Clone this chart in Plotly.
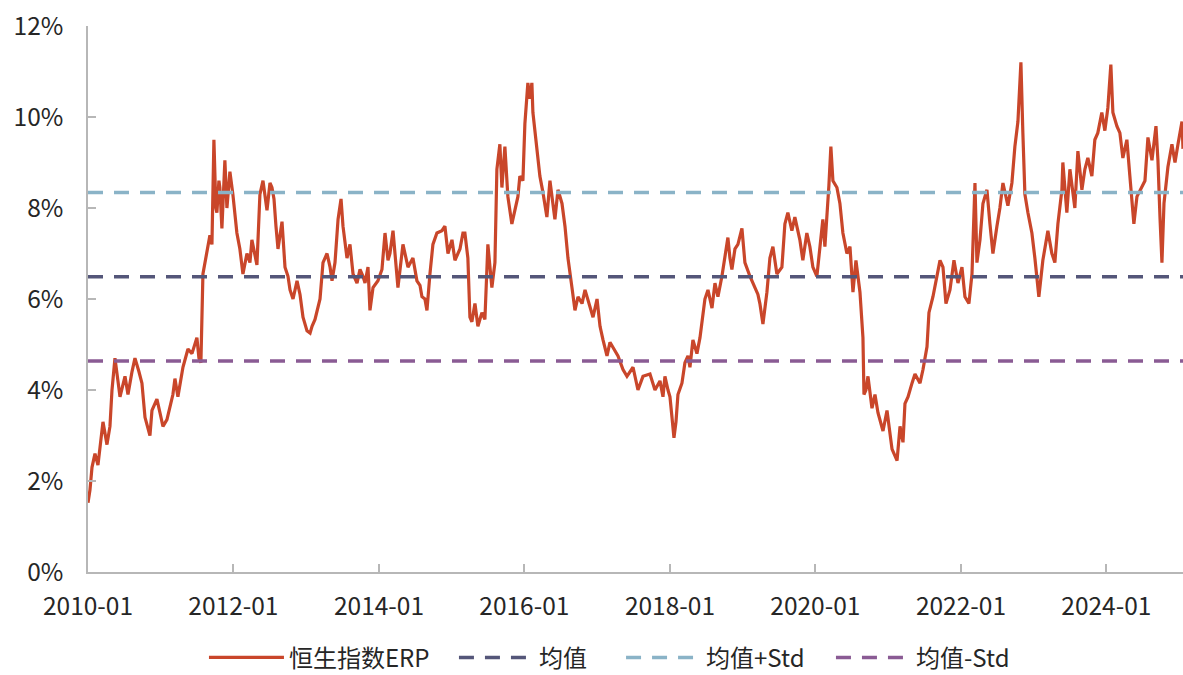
import pandas as pd
import plotly.graph_objects as go

# decimal-year time stamps and ERP values (%)
t_years = [
    2010.000, 2010.027, 2010.055, 2010.096, 2010.137, 2010.206, 2010.261, 2010.302, 2010.330, 2010.371,
    2010.412, 2010.440, 2010.509, 2010.550, 2010.605, 2010.646, 2010.701, 2010.742, 2010.784, 2010.852,
    2010.880, 2010.948, 2010.990, 2011.031, 2011.086, 2011.127, 2011.168, 2011.196, 2011.237, 2011.306,
    2011.375, 2011.430, 2011.498, 2011.526, 2011.553, 2011.581, 2011.636, 2011.677, 2011.705, 2011.718,
    2011.732, 2011.759, 2011.773, 2011.801, 2011.814, 2011.842, 2011.883, 2011.911, 2011.952, 2011.993,
    2012.048, 2012.089, 2012.131, 2012.186, 2012.227, 2012.254, 2012.296, 2012.323, 2012.364, 2012.406,
    2012.461, 2012.502, 2012.529, 2012.557, 2012.584, 2012.612, 2012.667, 2012.708, 2012.749, 2012.777,
    2012.818, 2012.873, 2012.914, 2012.955, 2013.010, 2013.052, 2013.079, 2013.120, 2013.189, 2013.230,
    2013.285, 2013.327, 2013.354, 2013.395, 2013.437, 2013.478, 2013.505, 2013.560, 2013.601, 2013.643,
    2013.698, 2013.739, 2013.780, 2013.808, 2013.849, 2013.876, 2013.918, 2013.986, 2014.041, 2014.083,
    2014.124, 2014.151, 2014.193, 2014.220, 2014.261, 2014.330, 2014.399, 2014.467, 2014.522, 2014.564,
    2014.591, 2014.632, 2014.660, 2014.701, 2014.742, 2014.797, 2014.866, 2014.907, 2014.949, 2015.004,
    2015.045, 2015.114, 2015.155, 2015.182, 2015.210, 2015.223, 2015.251, 2015.278, 2015.320, 2015.361,
    2015.416, 2015.457, 2015.498, 2015.526, 2015.553, 2015.595, 2015.622, 2015.663, 2015.691, 2015.732,
    2015.773, 2015.828, 2015.870, 2015.911, 2015.938, 2015.980, 2016.007, 2016.048, 2016.076, 2016.103,
    2016.117, 2016.172, 2016.213, 2016.254, 2016.309, 2016.351, 2016.419, 2016.461, 2016.516, 2016.557,
    2016.598, 2016.653, 2016.694, 2016.736, 2016.791, 2016.832, 2016.901, 2016.942, 2016.997, 2017.038,
    2017.079, 2017.134, 2017.175, 2017.230, 2017.285, 2017.354, 2017.409, 2017.492, 2017.560, 2017.629,
    2017.725, 2017.794, 2017.863, 2017.904, 2017.931, 2017.973, 2018.000, 2018.028, 2018.055, 2018.083,
    2018.110, 2018.165, 2018.206, 2018.248, 2018.275, 2018.316, 2018.371, 2018.413, 2018.454, 2018.481,
    2018.523, 2018.578, 2018.619, 2018.660, 2018.715, 2018.756, 2018.797, 2018.825, 2018.852, 2018.894,
    2018.935, 2018.990, 2019.031, 2019.100, 2019.169, 2019.210, 2019.237, 2019.279, 2019.334, 2019.375,
    2019.416, 2019.471, 2019.540, 2019.581, 2019.622, 2019.677, 2019.718, 2019.787, 2019.828, 2019.883,
    2019.925, 2019.966, 2020.021, 2020.062, 2020.103, 2020.131, 2020.158, 2020.186, 2020.213, 2020.241,
    2020.296, 2020.337, 2020.378, 2020.433, 2020.475, 2020.516, 2020.557, 2020.612, 2020.653, 2020.667,
    2020.694, 2020.722, 2020.777, 2020.818, 2020.859, 2020.928, 2020.983, 2021.024, 2021.052, 2021.093,
    2021.121, 2021.162, 2021.203, 2021.230, 2021.272, 2021.327, 2021.368, 2021.437, 2021.478, 2021.533,
    2021.560, 2021.615, 2021.670, 2021.712, 2021.753, 2021.794, 2021.849, 2021.904, 2021.959, 2022.014,
    2022.055, 2022.110, 2022.152, 2022.193, 2022.220, 2022.262, 2022.303, 2022.358, 2022.399, 2022.440,
    2022.495, 2022.536, 2022.578, 2022.646, 2022.701, 2022.742, 2022.784, 2022.825, 2022.852, 2022.880,
    2022.921, 2022.976, 2023.017, 2023.072, 2023.127, 2023.196, 2023.251, 2023.292, 2023.334, 2023.389,
    2023.402, 2023.457, 2023.499, 2023.567, 2023.609, 2023.664, 2023.705, 2023.746, 2023.801, 2023.842,
    2023.883, 2023.938, 2023.980, 2024.021, 2024.062, 2024.090, 2024.145, 2024.186, 2024.227, 2024.282,
    2024.323, 2024.378, 2024.420, 2024.488, 2024.530, 2024.571, 2024.626, 2024.681, 2024.708, 2024.736,
    2024.763, 2024.791, 2024.845, 2024.900, 2024.942, 2024.983, 2025.038, 2025.052,
]

erp = [
    1.52, 1.80, 2.30, 2.60, 2.35, 3.30, 2.80, 3.20, 4.00, 4.70,
    4.20, 3.85, 4.30, 3.90, 4.40, 4.70, 4.40, 4.15, 3.40, 3.00,
    3.55, 3.80, 3.50, 3.20, 3.35, 3.60, 3.90, 4.25, 3.85, 4.50,
    4.90, 4.80, 5.15, 4.70, 4.60, 6.55, 7.10, 7.40, 7.20, 8.60,
    9.50, 8.00, 7.90, 8.60, 8.45, 7.55, 9.05, 8.00, 8.80, 8.30,
    7.45, 7.10, 6.55, 7.00, 6.80, 7.30, 6.90, 6.75, 8.30, 8.60,
    7.95, 8.55, 8.45, 8.20, 7.60, 7.10, 7.70, 6.70, 6.50, 6.20,
    6.00, 6.40, 6.10, 5.60, 5.30, 5.25, 5.40, 5.55, 6.00, 6.80,
    7.00, 6.70, 6.40, 6.80, 7.75, 8.20, 7.60, 6.90, 7.20, 6.55,
    6.35, 6.65, 6.50, 6.35, 6.70, 5.75, 6.25, 6.40, 6.65, 7.45,
    6.85, 7.00, 7.50, 7.00, 6.25, 7.20, 6.70, 6.90, 6.40, 6.30,
    6.05, 6.00, 5.75, 6.55, 7.20, 7.45, 7.50, 7.60, 7.00, 7.30,
    6.85, 7.10, 7.45, 7.45, 7.15, 6.90, 5.60, 5.50, 5.90, 5.40,
    5.70, 5.55, 7.20, 6.60, 6.25, 6.80, 8.85, 9.40, 8.45, 9.35,
    8.25, 7.65, 8.00, 8.25, 8.70, 8.60, 9.85, 10.75, 10.40, 10.75,
    10.10, 9.35, 8.70, 8.35, 7.80, 8.60, 7.75, 8.40, 8.10, 7.60,
    6.90, 6.25, 5.75, 6.05, 5.90, 6.20, 5.80, 5.60, 6.00, 5.40,
    5.10, 4.75, 5.05, 4.90, 4.75, 4.45, 4.30, 4.50, 4.00, 4.30,
    4.35, 4.00, 4.20, 3.85, 4.30, 4.00, 3.85, 3.40, 2.95, 3.30,
    3.90, 4.15, 4.60, 4.75, 4.50, 5.10, 4.80, 5.15, 5.60, 6.00,
    6.20, 5.80, 6.35, 6.05, 6.50, 6.90, 7.35, 6.90, 6.65, 7.10,
    7.20, 7.55, 6.80, 6.50, 6.25, 6.10, 5.90, 5.45, 6.15, 6.90,
    7.15, 6.55, 6.70, 7.65, 7.90, 7.50, 7.80, 7.30, 6.85, 7.45,
    7.15, 6.70, 6.50, 7.10, 7.75, 7.15, 7.75, 8.50, 9.35, 8.60,
    8.45, 8.10, 7.45, 7.00, 7.15, 6.15, 6.85, 6.15, 5.15, 3.90,
    4.00, 4.30, 3.60, 3.90, 3.50, 3.10, 3.55, 3.00, 2.70, 2.55,
    2.45, 3.20, 2.85, 3.70, 3.85, 4.15, 4.35, 4.15, 4.45, 4.95,
    5.70, 6.05, 6.55, 6.85, 6.70, 5.90, 6.20, 6.85, 6.35, 6.70,
    6.05, 5.90, 6.55, 8.55, 6.80, 7.30, 8.10, 8.40, 7.65, 7.00,
    7.60, 8.00, 8.55, 8.05, 8.55, 9.35, 9.90, 11.20, 9.65, 8.30,
    7.90, 7.45, 6.90, 6.05, 6.85, 7.50, 7.00, 6.80, 7.65, 8.40,
    9.00, 7.90, 8.85, 8.00, 9.25, 8.40, 8.85, 9.10, 8.70, 9.50,
    9.65, 10.10, 9.70, 10.20, 11.15, 10.10, 9.80, 9.65, 9.10, 9.50,
    8.70, 7.65, 8.25, 8.45, 8.60, 9.55, 9.05, 9.80, 9.05, 7.80,
    6.80, 8.10, 8.90, 9.40, 9.00, 9.40, 9.90, 9.30,
]

mean_val = 6.49
std_val = 1.85

series_names = ["恒生指数ERP", "均值", "均值+Std", "均值-Std"]
y_ticks = [0, 2, 4, 6, 8, 10, 12]
y_tick_text = ["0%", "2%", "4%", "6%", "8%", "10%", "12%"]
x_tick_dates = ["2010-01-01", "2012-01-01", "2014-01-01", "2016-01-01",
                "2018-01-01", "2020-01-01", "2022-01-01", "2024-01-01"]
x_tick_text = ["2010-01", "2012-01", "2014-01", "2016-01",
               "2018-01", "2020-01", "2022-01", "2024-01"]


def dec_to_date(t):
    y = int(t)
    start = pd.Timestamp(year=y, month=1, day=1)
    end = pd.Timestamp(year=y + 1, month=1, day=1)
    return start + (end - start) * (t - y)


dates = [dec_to_date(t) for t in t_years]
x_span = [dates[0], dates[-1]]

FONT = "Noto Sans CJK SC"
FS = 24.5
LEG_FS = 24
RED = "#c9462a"
DARK = "#545679"
LIGHT = "#8ab3c7"
PURPLE = "#8a5b94"
DASH = "15px,11px"

fig = go.Figure()
fig.add_trace(go.Scatter(x=dates, y=erp, mode="lines", name=series_names[0],
                         line=dict(color=RED, width=3.2), legend="legend"))
fig.add_trace(go.Scatter(x=x_span, y=[mean_val, mean_val], mode="lines", name=series_names[1],
                         line=dict(color=DARK, width=3.5, dash=DASH), legend="legend2"))
fig.add_trace(go.Scatter(x=x_span, y=[mean_val + std_val] * 2, mode="lines", name=series_names[2],
                         line=dict(color=LIGHT, width=3.5, dash=DASH), legend="legend3"))
fig.add_trace(go.Scatter(x=x_span, y=[mean_val - std_val] * 2, mode="lines", name=series_names[3],
                         line=dict(color=PURPLE, width=3.5, dash=DASH), legend="legend4"))


def leg(xpos, ew):
    return dict(orientation="h", x=xpos, xanchor="left",
                yref="container", y=0.0255, yanchor="middle",
                font=dict(family=FONT, size=LEG_FS, color="#262626"),
                itemwidth=75, entrywidth=ew, entrywidthmode="pixels",
                bgcolor="rgba(0,0,0,0)", borderwidth=0)


fig.update_layout(
    width=1183, height=675,
    margin=dict(l=88, r=0, t=26, b=103),
    paper_bgcolor="white", plot_bgcolor="white",
    font=dict(family=FONT, size=FS, color="#262626"),
    showlegend=True,
    legend=leg(0.1059, 175),
    legend2=leg(0.3342, 80),
    legend3=leg(0.4868, 125),
    legend4=leg(0.6785, 125),
)
fig.update_xaxes(
    type="date", range=["2010-01-01", dates[-1]], automargin=False,
    tickmode="array", tickvals=x_tick_dates, ticktext=x_tick_text,
    showgrid=False, zeroline=False,
    showline=True, linecolor="#b7b7b7", linewidth=1.5,
    ticks="inside", ticklen=8, tickwidth=1.5, tickcolor="#b7b7b7",
    ticklabelstandoff=12,
)
fig.update_yaxes(
    range=[0, 12], automargin=False,
    tickmode="array", tickvals=y_ticks, ticktext=y_tick_text,
    showgrid=False, zeroline=False,
    showline=True, linecolor="#b7b7b7", linewidth=1.5,
    ticks="inside", ticklen=8, tickwidth=1.5, tickcolor="#b7b7b7",
    ticklabelstandoff=18,
)

fig.write_html("out.html", config={"displayModeBar": False},
               post_script="document.body.style.margin='0px';document.body.style.overflow='hidden';")
